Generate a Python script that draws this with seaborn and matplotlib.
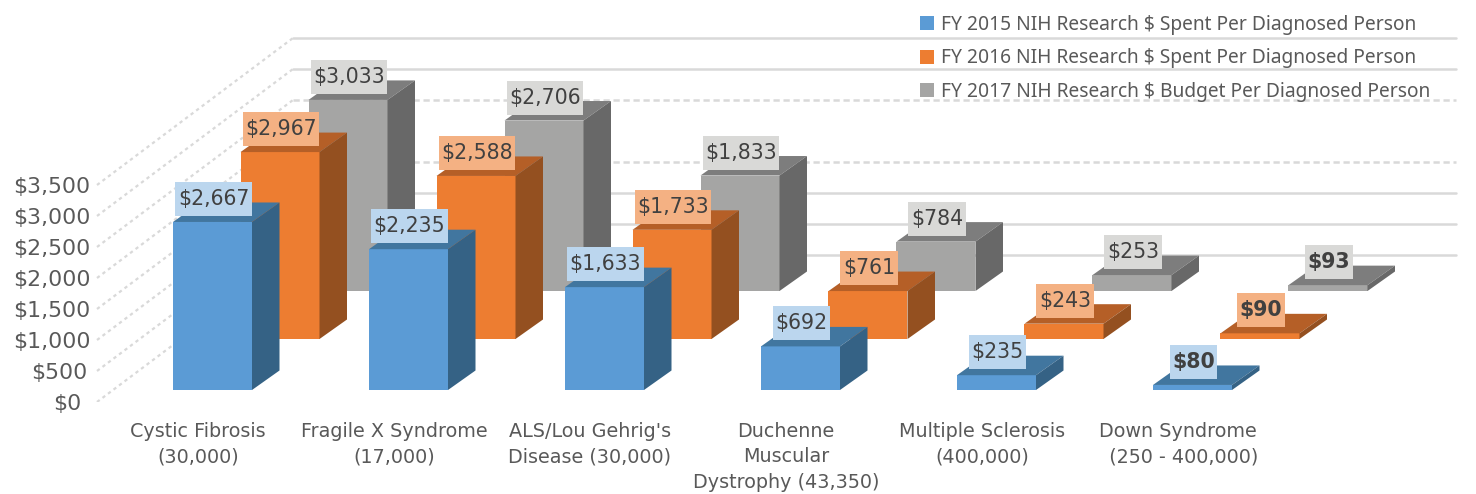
import seaborn as sns
import matplotlib.pyplot as plt
from matplotlib.patches import Patch, Rectangle
from matplotlib.ticker import StrMethodFormatter
from matplotlib.transforms import ScaledTranslation

categories = ["Cystic Fibrosis\n(30,000)", "Fragile X Syndrome\n(17,000)",
              "ALS/Lou Gehrig's\nDisease (30,000)", "Duchenne\nMuscular\nDystrophy (43,350)",
              "Multiple Sclerosis\n(400,000)", "Down Syndrome\n  (250 - 400,000)"]
spent_2015 = [2667, 2235, 1633, 692, 235, 80]
spent_2016 = [2967, 2588, 1733, 761, 243, 90]
budget_2017 = [3033, 2706, 1833, 784, 253, 93]

legend_labels = ["FY 2015 NIH Research $ Spent Per Diagnosed Person",
                 "FY 2016 NIH Research $ Spent Per Diagnosed Person",
                 "FY 2017 NIH Research $ Budget Per Diagnosed Person"]

axis_ticks = [0, 500, 1000, 1500, 2000, 2500, 3000, 3500]
back_solid = [0, 500, 1000, 3000, 3500]
back_dotted = [1500, 2500]

W, H = 1476, 494
PX_X = 196        # pixels per category
ORIGIN = 198      # pixel of first category tick
LEFT = 92         # pixel of left edge of the axes
BAR_W = 79
DX, DY = 27.5, 19.5

fig = plt.figure(figsize=(W / 100, H / 100), dpi=100)
sns.set_theme(style="white")
plt.rcParams['font.family'] = ['DejaVu Sans']
xlim = ((LEFT - ORIGIN) / PX_X, (W - ORIGIN) / PX_X)


def make_axes(base_px, scale, z):
    ax = fig.add_axes([LEFT / W, (H - base_px) / H, (W - LEFT) / W, base_px / H])
    ax.set_zorder(z)
    ax.patch.set_alpha(0)
    return ax, (0, base_px / scale)


# walls
wall_scale = 31 / 500
wall, wall_ylim = make_axes(402, wall_scale, 0)
rise = 147 / wall_scale
x_front, x_back, x_end = [(p - ORIGIN) / PX_X for p in (97, 293, 1456)]
for v in axis_ticks:
    wall.plot([x_front, x_back], [v, v + rise], color="#d9d9d9", lw=1.6, ls=(0, (1.5, 1.6)))
for v in back_solid:
    wall.plot([x_back, x_end], [v + rise, v + rise], color="#d9d9d9", lw=1.8)
for v in back_dotted:
    wall.plot([x_back, x_end], [v + rise, v + rise], color="#d9d9d9", lw=1.8, ls=(0, (2.5, 1.5)))
wall.set_xlim(xlim)
wall.set_ylim(wall_ylim)
wall.set_yticks(axis_ticks)
wall.yaxis.set_major_formatter(StrMethodFormatter("${x:,.0f}"))
wall.set_xticks(range(len(categories)))
wall.set_xticklabels(categories, linespacing=1.42)
wall.tick_params(axis="y", length=0, pad=1, labelsize=15.8, labelcolor="#595959")
wall.tick_params(axis="x", length=0, pad=14.5, labelsize=13.8, labelcolor="#595959")
sns.despine(ax=wall, left=True, bottom=True)

# the two shortest tick labels sit a little further left
fig.canvas.draw()
ticklabels = wall.get_yticklabels()
for label, shift in zip(ticklabels[:2], (-9, -3)):
    label.set_transform(label.get_transform() + ScaledTranslation(shift / 100, 0, fig.dpi_scale_trans))

# back to front: values, base pixel, offset, front/top/side/label colours
series = [
    (budget_2017, 291, 150, "#a5a5a4", "#7d7d7d", "#686868", "#d9d9d7", 1),
    (spent_2016, 339, 82, "#ed7d31", "#b55f27", "#945020", "#f4b183", 2),
    (spent_2015, 390, 14.5, "#5b9bd5", "#41769f", "#356285", "#bbd6ee", 3),
]
scale = 0.063
renderer = fig.canvas.get_renderer()

for values, base, offset, front, top, side, box, z in series:
    ax, ylim = make_axes(base, scale, z)
    xpos = [i + offset / PX_X for i in range(len(values))]
    sns.barplot(x=xpos, y=values, native_scale=True, width=BAR_W / PX_X,
                color=front, saturation=1, ax=ax)
    dx, dy = DX / PX_X, DY / scale
    for rect, v in zip(list(ax.containers[0]), values):
        x0, x1, h = rect.get_x(), rect.get_x() + rect.get_width(), rect.get_height()
        rect.set_edgecolor("none")
        ax.fill([x0, x1, x1 + dx, x0 + dx], [h, h, h + dy, h + dy], color=top, lw=0)
        ax.fill([x1, x1 + dx, x1 + dx, x1], [0, dy, h + dy, h], color=side, lw=0)

        # data label on its tinted box, centred on the bar
        cx = (x0 + x1) / 2 + 1 / PX_X
        cy = h + (6 + 17) / scale
        t = ax.text(cx, cy, f"${v:,}", ha="center", va="center", fontsize=14.8, color="#404040",
                    fontweight="bold" if v < 100 else "normal", zorder=6)
        w = (t.get_window_extent(renderer).width + 5) / PX_X
        ax.add_patch(Rectangle((cx - w / 2, cy - 17 / scale), w, 34 / scale,
                               facecolor=box, edgecolor="none", zorder=5))
    ax.set_xlim(xlim)
    ax.set_ylim(ylim)
    ax.axis("off")

handles = [Patch(facecolor=c, edgecolor="none") for c in ("#5b9bd5", "#ed7d31", "#a5a5a4")]
leg = fig.legend(handles, legend_labels, loc="upper left", bbox_to_anchor=(920 / W, 1 - 15 / H),
                 frameon=False, prop={"family": "Noto Sans", "size": 13.85}, labelcolor="#595959",
                 handlelength=0.72, handleheight=0.72, handletextpad=0.38, labelspacing=0.7,
                 borderpad=0, borderaxespad=0)
leg.set_zorder(10)

fig.savefig("out.png", dpi=100)
